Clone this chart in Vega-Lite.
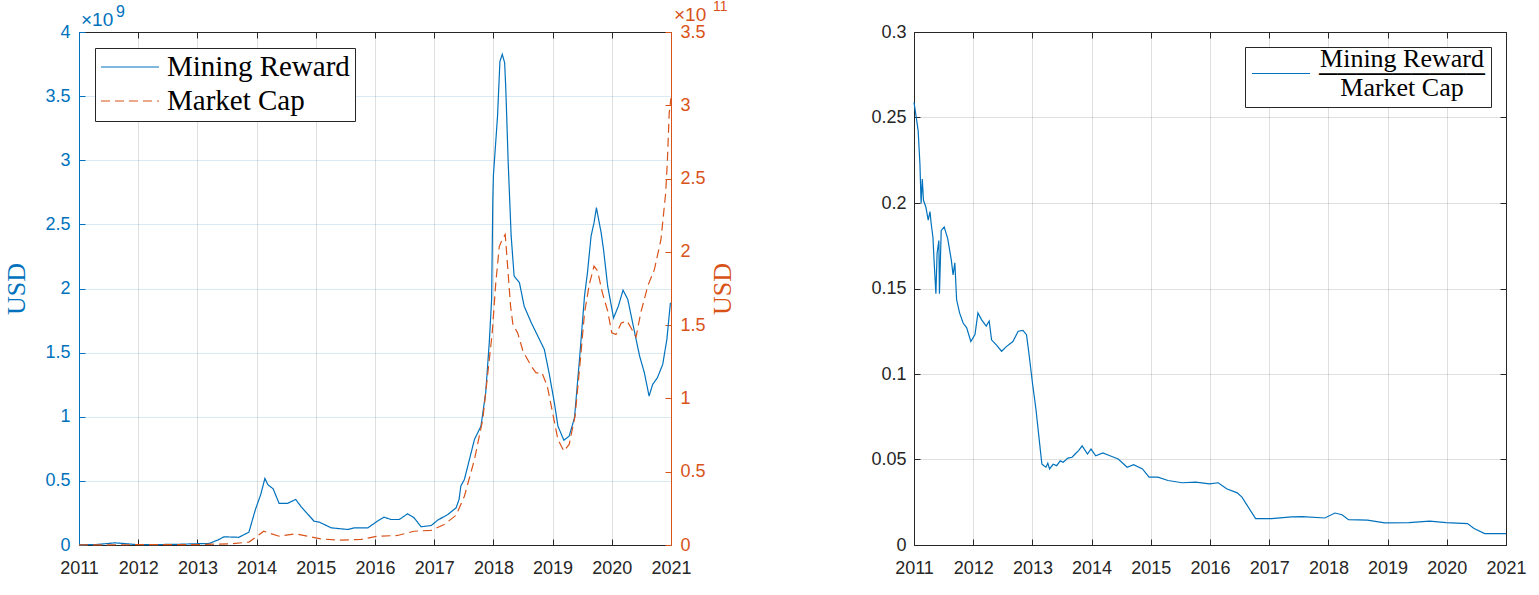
{
  "$schema": "https://vega.github.io/schema/vega-lite/v6.json",
  "background": "white",
  "padding": {"left": 3, "top": 0, "right": 5, "bottom": 5},
  "config": {"view": {"stroke": null}, "font": "Liberation Sans"},
  "datasets": {
    "reward": [
      {"t": 2011.00, "v": 0.002e9}, {"t": 2011.30, "v": 0.004e9}, {"t": 2011.50, "v": 0.012e9},
      {"t": 2011.60, "v": 0.017e9}, {"t": 2011.75, "v": 0.012e9}, {"t": 2011.95, "v": 0.004e9},
      {"t": 2012.30, "v": 0.003e9}, {"t": 2012.70, "v": 0.006e9}, {"t": 2013.00, "v": 0.010e9},
      {"t": 2013.20, "v": 0.012e9}, {"t": 2013.35, "v": 0.040e9}, {"t": 2013.45, "v": 0.064e9},
      {"t": 2013.70, "v": 0.060e9}, {"t": 2013.87, "v": 0.100e9}, {"t": 2013.98, "v": 0.277e9},
      {"t": 2014.07, "v": 0.394e9}, {"t": 2014.14, "v": 0.519e9}, {"t": 2014.19, "v": 0.470e9},
      {"t": 2014.28, "v": 0.438e9}, {"t": 2014.38, "v": 0.324e9}, {"t": 2014.52, "v": 0.324e9},
      {"t": 2014.66, "v": 0.355e9}, {"t": 2014.75, "v": 0.300e9}, {"t": 2014.97, "v": 0.186e9},
      {"t": 2015.06, "v": 0.178e9}, {"t": 2015.26, "v": 0.134e9}, {"t": 2015.54, "v": 0.121e9},
      {"t": 2015.65, "v": 0.134e9}, {"t": 2015.88, "v": 0.134e9}, {"t": 2016.04, "v": 0.186e9},
      {"t": 2016.15, "v": 0.217e9}, {"t": 2016.27, "v": 0.199e9}, {"t": 2016.41, "v": 0.199e9},
      {"t": 2016.55, "v": 0.243e9}, {"t": 2016.66, "v": 0.212e9}, {"t": 2016.78, "v": 0.142e9},
      {"t": 2016.95, "v": 0.152e9}, {"t": 2017.06, "v": 0.194e9}, {"t": 2017.23, "v": 0.238e9},
      {"t": 2017.37, "v": 0.290e9}, {"t": 2017.42, "v": 0.355e9}, {"t": 2017.45, "v": 0.459e9},
      {"t": 2017.51, "v": 0.511e9}, {"t": 2017.56, "v": 0.602e9}, {"t": 2017.68, "v": 0.823e9},
      {"t": 2017.79, "v": 0.927e9}, {"t": 2017.87, "v": 1.187e9}, {"t": 2017.93, "v": 1.577e9},
      {"t": 2017.97, "v": 1.915e9}, {"t": 2017.99, "v": 2.690e9}, {"t": 2018.00, "v": 2.880e9},
      {"t": 2018.07, "v": 3.345e9}, {"t": 2018.11, "v": 3.770e9}, {"t": 2018.15, "v": 3.826e9},
      {"t": 2018.19, "v": 3.760e9}, {"t": 2018.21, "v": 3.550e9}, {"t": 2018.25, "v": 2.980e9},
      {"t": 2018.30, "v": 2.410e9}, {"t": 2018.35, "v": 2.097e9}, {"t": 2018.44, "v": 2.045e9},
      {"t": 2018.52, "v": 1.862e9}, {"t": 2018.64, "v": 1.733e9}, {"t": 2018.75, "v": 1.629e9},
      {"t": 2018.86, "v": 1.525e9}, {"t": 2018.94, "v": 1.343e9}, {"t": 2019.03, "v": 1.109e9},
      {"t": 2019.09, "v": 0.927e9}, {"t": 2019.19, "v": 0.817e9}, {"t": 2019.28, "v": 0.849e9},
      {"t": 2019.37, "v": 0.992e9}, {"t": 2019.45, "v": 1.424e9}, {"t": 2019.54, "v": 1.946e9},
      {"t": 2019.59, "v": 2.128e9}, {"t": 2019.65, "v": 2.409e9}, {"t": 2019.70, "v": 2.513e9},
      {"t": 2019.74, "v": 2.630e9}, {"t": 2019.82, "v": 2.435e9}, {"t": 2019.86, "v": 2.305e9},
      {"t": 2019.93, "v": 2.019e9}, {"t": 2020.03, "v": 1.770e9}, {"t": 2020.11, "v": 1.862e9},
      {"t": 2020.19, "v": 1.987e9}, {"t": 2020.27, "v": 1.915e9}, {"t": 2020.34, "v": 1.759e9},
      {"t": 2020.41, "v": 1.603e9}, {"t": 2020.47, "v": 1.473e9}, {"t": 2020.55, "v": 1.343e9},
      {"t": 2020.63, "v": 1.161e9}, {"t": 2020.69, "v": 1.252e9}, {"t": 2020.77, "v": 1.304e9},
      {"t": 2020.86, "v": 1.408e9}, {"t": 2020.93, "v": 1.603e9}, {"t": 2020.99, "v": 1.889e9}
    ],
    "cap": [
      {"t": 2011.00, "v": 0.001e11}, {"t": 2012.00, "v": 0.002e11}, {"t": 2013.00, "v": 0.003e11},
      {"t": 2013.57, "v": 0.008e11}, {"t": 2013.87, "v": 0.020e11}, {"t": 2014.01, "v": 0.060e11},
      {"t": 2014.12, "v": 0.094e11}, {"t": 2014.38, "v": 0.060e11}, {"t": 2014.66, "v": 0.076e11},
      {"t": 2015.08, "v": 0.042e11}, {"t": 2015.37, "v": 0.033e11}, {"t": 2015.77, "v": 0.038e11},
      {"t": 2016.04, "v": 0.060e11}, {"t": 2016.38, "v": 0.065e11}, {"t": 2016.66, "v": 0.094e11},
      {"t": 2016.95, "v": 0.100e11}, {"t": 2017.17, "v": 0.140e11}, {"t": 2017.37, "v": 0.203e11},
      {"t": 2017.51, "v": 0.333e11}, {"t": 2017.68, "v": 0.583e11}, {"t": 2017.82, "v": 0.856e11},
      {"t": 2017.90, "v": 1.151e11}, {"t": 2017.98, "v": 1.447e11}, {"t": 2018.04, "v": 1.788e11},
      {"t": 2018.10, "v": 2.038e11}, {"t": 2018.15, "v": 2.084e11}, {"t": 2018.20, "v": 2.118e11},
      {"t": 2018.24, "v": 1.902e11}, {"t": 2018.29, "v": 1.630e11}, {"t": 2018.33, "v": 1.504e11},
      {"t": 2018.41, "v": 1.447e11}, {"t": 2018.50, "v": 1.322e11}, {"t": 2018.64, "v": 1.220e11},
      {"t": 2018.72, "v": 1.175e11}, {"t": 2018.82, "v": 1.175e11}, {"t": 2018.91, "v": 1.084e11},
      {"t": 2019.00, "v": 0.902e11}, {"t": 2019.09, "v": 0.720e11}, {"t": 2019.19, "v": 0.640e11},
      {"t": 2019.28, "v": 0.686e11}, {"t": 2019.38, "v": 0.880e11}, {"t": 2019.47, "v": 1.268e11},
      {"t": 2019.54, "v": 1.586e11}, {"t": 2019.62, "v": 1.779e11}, {"t": 2019.70, "v": 1.902e11},
      {"t": 2019.76, "v": 1.870e11}, {"t": 2019.84, "v": 1.722e11}, {"t": 2019.93, "v": 1.597e11},
      {"t": 2020.00, "v": 1.447e11}, {"t": 2020.07, "v": 1.436e11}, {"t": 2020.16, "v": 1.515e11},
      {"t": 2020.26, "v": 1.527e11}, {"t": 2020.34, "v": 1.470e11}, {"t": 2020.41, "v": 1.420e11},
      {"t": 2020.49, "v": 1.586e11}, {"t": 2020.61, "v": 1.770e11}, {"t": 2020.72, "v": 1.880e11},
      {"t": 2020.83, "v": 2.084e11}, {"t": 2020.91, "v": 2.400e11}, {"t": 2020.94, "v": 2.630e11},
      {"t": 2020.97, "v": 2.950e11}, {"t": 2021.00, "v": 3.050e11}
    ],
    "ratio": [
      {"t": 2011.00, "v": 0.2588}, {"t": 2011.03, "v": 0.252}, {"t": 2011.07, "v": 0.2423},
      {"t": 2011.10, "v": 0.223}, {"t": 2011.12, "v": 0.1997}, {"t": 2011.14, "v": 0.214},
      {"t": 2011.16, "v": 0.2016}, {"t": 2011.20, "v": 0.1977}, {"t": 2011.24, "v": 0.19},
      {"t": 2011.27, "v": 0.195}, {"t": 2011.29, "v": 0.188}, {"t": 2011.32, "v": 0.180},
      {"t": 2011.34, "v": 0.1657}, {"t": 2011.37, "v": 0.147}, {"t": 2011.39, "v": 0.1706},
      {"t": 2011.42, "v": 0.178}, {"t": 2011.43, "v": 0.147}, {"t": 2011.46, "v": 0.184},
      {"t": 2011.51, "v": 0.186}, {"t": 2011.57, "v": 0.179}, {"t": 2011.63, "v": 0.1667},
      {"t": 2011.66, "v": 0.158}, {"t": 2011.69, "v": 0.165}, {"t": 2011.72, "v": 0.1434},
      {"t": 2011.77, "v": 0.1357}, {"t": 2011.83, "v": 0.1298}, {"t": 2011.89, "v": 0.127},
      {"t": 2011.96, "v": 0.119}, {"t": 2012.03, "v": 0.123}, {"t": 2012.08, "v": 0.1357},
      {"t": 2012.14, "v": 0.1318}, {"t": 2012.22, "v": 0.128}, {"t": 2012.27, "v": 0.131},
      {"t": 2012.31, "v": 0.12}, {"t": 2012.39, "v": 0.117}, {"t": 2012.48, "v": 0.1133},
      {"t": 2012.56, "v": 0.116}, {"t": 2012.67, "v": 0.119}, {"t": 2012.76, "v": 0.125},
      {"t": 2012.84, "v": 0.1255}, {"t": 2012.90, "v": 0.123}, {"t": 2012.94, "v": 0.1124},
      {"t": 2013.00, "v": 0.095}, {"t": 2013.06, "v": 0.0794}, {"t": 2013.12, "v": 0.060},
      {"t": 2013.16, "v": 0.0474}, {"t": 2013.20, "v": 0.0462}, {"t": 2013.23, "v": 0.0455},
      {"t": 2013.26, "v": 0.0478}, {"t": 2013.29, "v": 0.0445}, {"t": 2013.35, "v": 0.0472},
      {"t": 2013.41, "v": 0.0464}, {"t": 2013.47, "v": 0.0492}, {"t": 2013.52, "v": 0.0484},
      {"t": 2013.60, "v": 0.0508}, {"t": 2013.67, "v": 0.0513}, {"t": 2013.73, "v": 0.0535},
      {"t": 2013.78, "v": 0.0552}, {"t": 2013.84, "v": 0.058}, {"t": 2013.93, "v": 0.0532},
      {"t": 2013.99, "v": 0.0561}, {"t": 2014.07, "v": 0.0522}, {"t": 2014.19, "v": 0.0538},
      {"t": 2014.31, "v": 0.0522}, {"t": 2014.45, "v": 0.0503}, {"t": 2014.60, "v": 0.0455},
      {"t": 2014.71, "v": 0.047}, {"t": 2014.86, "v": 0.0445}, {"t": 2014.97, "v": 0.0397},
      {"t": 2015.12, "v": 0.0397}, {"t": 2015.29, "v": 0.0377}, {"t": 2015.53, "v": 0.0364},
      {"t": 2015.76, "v": 0.0368}, {"t": 2015.99, "v": 0.0358}, {"t": 2016.14, "v": 0.0364},
      {"t": 2016.28, "v": 0.0329}, {"t": 2016.46, "v": 0.0305}, {"t": 2016.54, "v": 0.028},
      {"t": 2016.77, "v": 0.0154}, {"t": 2017.04, "v": 0.0154}, {"t": 2017.38, "v": 0.0164},
      {"t": 2017.56, "v": 0.0166}, {"t": 2017.94, "v": 0.0158}, {"t": 2018.11, "v": 0.0187},
      {"t": 2018.23, "v": 0.0177}, {"t": 2018.34, "v": 0.0148}, {"t": 2018.66, "v": 0.0145},
      {"t": 2018.95, "v": 0.0129}, {"t": 2019.36, "v": 0.0131}, {"t": 2019.71, "v": 0.014},
      {"t": 2019.99, "v": 0.0131}, {"t": 2020.35, "v": 0.0125}, {"t": 2020.46, "v": 0.0096},
      {"t": 2020.64, "v": 0.0067}, {"t": 2021.00, "v": 0.0067}
    ]
  },
  "spacing": 134,
  "resolve": {"scale": {"color": "independent", "strokeDash": "independent"}},
  "hconcat": [
    {
      "width": 592,
      "height": 513,
      "layer": [
        {
          "data": {"name": "reward"},
          "mark": {"type": "line", "strokeWidth": 1.2},
          "encoding": {
            "x": {
              "field": "t", "type": "quantitative",
              "scale": {"domain": [2011, 2021], "nice": false, "zero": false},
              "axis": {
                "orient": "bottom", "title": null, "values": [2011, 2012, 2013, 2014, 2015, 2016, 2017, 2018, 2019, 2020, 2021],
                "format": "d", "labelFont": "Liberation Sans", "labelFontSize": 18, "labelColor": "#262626",
                "domainColor": "#262626", "tickColor": "#262626", "tickSize": -6, "labelPadding": 20,
                "grid": true, "gridColor": "#262626", "gridOpacity": 0.15, "labelFlush": false
              }
            },
            "y": {
              "field": "v", "type": "quantitative",
              "scale": {"domain": [0, 4e9], "nice": false},
              "axis": {
                "orient": "left", "title": "USD", "titleFont": "Liberation Serif", "titleFontSize": 26,
                "titleFontWeight": "normal", "titleColor": "#0072BD", "titlePadding": 15,
                "values": [0, 0.5e9, 1e9, 1.5e9, 2e9, 2.5e9, 3e9, 3.5e9, 4e9],
                "labelExpr": "format(datum.value / 1e9, '~g')",
                "labelFont": "Liberation Sans", "labelFontSize": 18, "labelColor": "#0072BD",
                "domainColor": "#0072BD", "tickColor": "#0072BD", "tickSize": -6, "labelPadding": 15,
                "grid": true, "gridColor": "#0072BD", "gridOpacity": 0.15, "labelFlush": false
              }
            },
            "color": {
              "datum": "Mining Reward", "type": "nominal",
              "scale": {"domain": ["Mining Reward", "Market Cap"], "range": ["#0072BD", "#D95319"]},
              "legend": {
                "title": null, "orient": "top-left", "offset": 16, "symbolType": "stroke",
                "symbolSize": 3364, "symbolStrokeWidth": 1.2, "labelFont": "Liberation Serif",
                "labelFontSize": 29, "labelColor": "black", "labelLimit": 400, "labelOffset": 7,
                "padding": 5, "strokeColor": "#262626", "fillColor": "white", "clipHeight": 28, "rowPadding": 5
              }
            },
            "strokeDash": {
              "datum": "Mining Reward", "type": "nominal",
              "scale": {"domain": ["Mining Reward", "Market Cap"], "range": [[1, 0], [9, 5]]},
              "legend": {
                "title": null, "orient": "top-left", "offset": 16, "symbolType": "stroke",
                "symbolSize": 3364, "symbolStrokeWidth": 1.2, "labelFont": "Liberation Serif",
                "labelFontSize": 29, "labelColor": "black", "labelLimit": 400, "labelOffset": 7,
                "padding": 5, "strokeColor": "#262626", "fillColor": "white", "clipHeight": 28, "rowPadding": 5
              }
            }
          }
        },
        {
          "data": {"name": "cap"},
          "mark": {"type": "line", "strokeWidth": 1.2},
          "encoding": {
            "x": {
              "field": "t", "type": "quantitative",
              "scale": {"domain": [2011, 2021], "nice": false, "zero": false},
              "axis": {
                "orient": "top", "title": null, "labels": false, "grid": false,
                "values": [2011, 2012, 2013, 2014, 2015, 2016, 2017, 2018, 2019, 2020, 2021],
                "domainColor": "#262626", "tickColor": "#262626", "tickSize": -6
              }
            },
            "y": {
              "field": "v", "type": "quantitative",
              "scale": {"domain": [0, 3.5e11], "nice": false},
              "axis": {
                "orient": "right", "title": "USD", "titleFont": "Liberation Serif", "titleFontSize": 26,
                "titleFontWeight": "normal", "titleColor": "#D95319", "titlePadding": 30, "titleAngle": 270,
                "values": [0, 0.5e11, 1e11, 1.5e11, 2e11, 2.5e11, 3e11, 3.5e11],
                "labelExpr": "format(datum.value / 1e11, '~g')",
                "labelFont": "Liberation Sans", "labelFontSize": 18, "labelColor": "#D95319",
                "domainColor": "#D95319", "tickColor": "#D95319", "tickSize": -6, "labelPadding": 15,
                "grid": false, "labelFlush": false
              }
            },
            "color": {"datum": "Market Cap", "type": "nominal"},
            "strokeDash": {"datum": "Market Cap", "type": "nominal"}
          }
        },
        {
          "data": {"values": [{"s": "×10"}]},
          "mark": {"type": "text", "align": "left", "baseline": "alphabetic", "dx": 2, "dy": -6, "fontSize": 19, "color": "#0072BD", "font": "Liberation Sans"},
          "encoding": {
            "x": {"datum": 2011, "type": "quantitative", "scale": {"domain": [2011, 2021], "nice": false, "zero": false}, "axis": null},
            "y": {"datum": 4e9, "type": "quantitative", "scale": {"domain": [0, 4e9], "nice": false}, "axis": null},
            "text": {"field": "s"}
          }
        },
        {
          "data": {"values": [{"s": "9"}]},
          "mark": {"type": "text", "align": "left", "baseline": "alphabetic", "dx": 37, "dy": -15, "fontSize": 16, "color": "#0072BD", "font": "Liberation Sans"},
          "encoding": {
            "x": {"datum": 2011, "type": "quantitative", "scale": {"domain": [2011, 2021], "nice": false, "zero": false}, "axis": null},
            "y": {"datum": 4e9, "type": "quantitative", "scale": {"domain": [0, 4e9], "nice": false}, "axis": null},
            "text": {"field": "s"}
          }
        },
        {
          "data": {"values": [{"s": "×10"}]},
          "mark": {"type": "text", "align": "left", "baseline": "alphabetic", "dx": 3, "dy": -11, "fontSize": 19, "color": "#D95319", "font": "Liberation Sans"},
          "encoding": {
            "x": {"datum": 2021, "type": "quantitative", "scale": {"domain": [2011, 2021], "nice": false, "zero": false}, "axis": null},
            "y": {"datum": 3.5e11, "type": "quantitative", "scale": {"domain": [0, 3.5e11], "nice": false}, "axis": null},
            "text": {"field": "s"}
          }
        },
        {
          "data": {"values": [{"s": "11"}]},
          "mark": {"type": "text", "align": "left", "baseline": "alphabetic", "dx": 42, "dy": -21, "fontSize": 14, "color": "#D95319", "font": "Liberation Sans"},
          "encoding": {
            "x": {"datum": 2021, "type": "quantitative", "scale": {"domain": [2011, 2021], "nice": false, "zero": false}, "axis": null},
            "y": {"datum": 3.5e11, "type": "quantitative", "scale": {"domain": [0, 3.5e11], "nice": false}, "axis": null},
            "text": {"field": "s"}
          }
        }
      ],
      "resolve": {"scale": {"y": "independent"}, "axis": {"x": "independent", "y": "independent"}}
    },
    {
      "width": 592,
      "height": 513,
      "data": {"name": "ratio"},
      "layer": [
        {
          "mark": {"type": "line", "strokeWidth": 1.2},
          "encoding": {
            "x": {
              "field": "t", "type": "quantitative",
              "scale": {"domain": [2011, 2021], "nice": false, "zero": false},
              "axis": {
                "orient": "bottom", "title": null, "values": [2011, 2012, 2013, 2014, 2015, 2016, 2017, 2018, 2019, 2020, 2021],
                "format": "d", "labelFont": "Liberation Sans", "labelFontSize": 18, "labelColor": "#262626",
                "domainColor": "#262626", "tickColor": "#262626", "tickSize": -6, "labelPadding": 20,
                "grid": true, "gridColor": "#262626", "gridOpacity": 0.15, "labelFlush": false
              }
            },
            "y": {
              "field": "v", "type": "quantitative",
              "scale": {"domain": [0, 0.3], "nice": false},
              "axis": {
                "orient": "left", "title": null,
                "values": [0, 0.05, 0.1, 0.15, 0.2, 0.25, 0.3], "format": "~g",
                "labelFont": "Liberation Sans", "labelFontSize": 18, "labelColor": "#262626",
                "domainColor": "#262626", "tickColor": "#262626", "tickSize": -6, "labelPadding": 14,
                "grid": true, "gridColor": "#262626", "gridOpacity": 0.15, "labelFlush": false
              }
            },
            "color": {
              "datum": "ratio", "type": "nominal",
              "scale": {"domain": ["ratio"], "range": ["#0072BD"]},
              "legend": {
                "title": null, "orient": "top-right", "offset": 15, "symbolType": "stroke",
                "symbolSize": 3364, "symbolStrokeWidth": 1.2, "labelFont": "Liberation Serif",
                "labelFontSize": 26, "labelColor": "black", "labelLimit": 400, "labelOffset": 91,
                "labelAlign": "center", "padding": 6, "strokeColor": "#262626", "fillColor": "white", "clipHeight": 41,
                "labelExpr": "['Mining Reward', '─────────', 'Market Cap']",
                "encoding": {"labels": {"lineHeight": {"value": 14.5}, "dy": {"value": -14.5}}}
              }
            }
          }
        },
        {
          "mark": {"type": "line", "strokeOpacity": 0},
          "encoding": {
            "x": {
              "field": "t", "type": "quantitative",
              "scale": {"domain": [2011, 2021], "nice": false, "zero": false},
              "axis": {
                "orient": "top", "title": null, "labels": false, "grid": false,
                "values": [2011, 2012, 2013, 2014, 2015, 2016, 2017, 2018, 2019, 2020, 2021],
                "domainColor": "#262626", "tickColor": "#262626", "tickSize": -6
              }
            },
            "y": {
              "field": "v", "type": "quantitative",
              "scale": {"domain": [0, 0.3], "nice": false},
              "axis": {
                "orient": "right", "title": null, "labels": false, "grid": false,
                "values": [0, 0.05, 0.1, 0.15, 0.2, 0.25, 0.3],
                "domainColor": "#262626", "tickColor": "#262626", "tickSize": -6
              }
            }
          }
        }
      ],
      "resolve": {"axis": {"x": "independent", "y": "independent"}}
    }
  ]
}
